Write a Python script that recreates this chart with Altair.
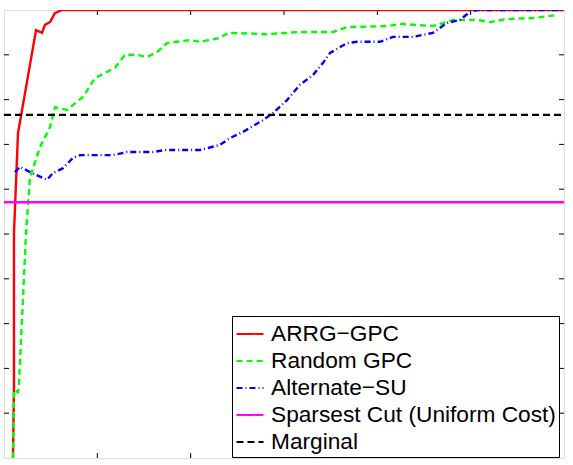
import altair as alt
import pandas as pd

# ---- data ----
arrg_x = [0.96, 1.07, 1.07, 1.5, 3.43, 4.07, 4.39, 4.93, 5.46, 6.21, 60]
arrg_y = [0.0, 0.158, 0.502, 0.725, 0.955, 0.949, 0.967, 0.973, 0.993, 1.0, 1.0]

rand_x = [0.96, 1.07, 1.5, 1.61, 2.36, 2.79, 3.86, 4.93, 5.46, 6.75, 8.46, 9.75, 11.04, 11.89,
          12.96, 14.25, 15.32, 16.39, 17.46, 18.54, 19.93, 21.0, 23.14, 24.0, 28.18, 31.71,
          35.25, 36.75, 41.04, 42.43, 45.96, 48.11, 50.68, 52.07, 53.89, 56.68, 59.36]
rand_y = [0.0, 0.152, 0.147, 0.167, 0.502, 0.627, 0.694, 0.739, 0.783, 0.777, 0.806, 0.848,
          0.862, 0.871, 0.9, 0.9, 0.895, 0.906, 0.926, 0.929, 0.933, 0.929, 0.9375, 0.949,
          0.946, 0.951, 0.951, 0.962, 0.964, 0.969, 0.964, 0.978, 0.978, 0.973, 0.98, 0.982,
          0.989]

alt_x = [1.18, 1.71, 3.0, 4.61, 5.25, 6.32, 7.39, 8.14, 9.96, 11.68, 13.18, 15.96, 17.25, 21.0,
         23.14, 24.21, 25.61, 27.75, 28.82, 30.32, 31.71, 33.11, 34.18, 34.93, 36.75, 37.82,
         40.29, 41.68, 43.82, 45.96, 47.46, 48.86, 49.93, 50.68, 60]
alt_y = [0.638, 0.65, 0.636, 0.621, 0.636, 0.647, 0.67, 0.676, 0.676, 0.676, 0.683, 0.683,
         0.6875, 0.6875, 0.699, 0.714, 0.728, 0.754, 0.77, 0.799, 0.833, 0.855, 0.882, 0.904,
         0.926, 0.929, 0.929, 0.94, 0.94, 0.949, 0.971, 0.978, 0.996, 1.0, 1.0]

sparsest_x = [0, 60]
sparsest_y = [0.571, 0.571]
marginal_x = [0, 60]
marginal_y = [0.766, 0.766]

series_names = ["ARRG\u2212GPC", "Random GPC", "Alternate\u2212SU",
                "Sparsest Cut (Uniform Cost)", "Marginal"]
series_colors = ["#ff0000", "#00ff00", "#0000ff", "#ff00ff", "#000000"]
series_dash = [[1, 0], [6, 4], [6, 3, 1, 3], [1, 0], [7, 4]]

x_ticks = [10, 20, 30, 40, 50]
y_ticks = [0.1, 0.2, 0.3, 0.4, 0.5, 0.6, 0.7, 0.8, 0.9]

W, H = 560, 448

rows = []
for i, (xs_, ys_) in enumerate([(arrg_x, arrg_y), (rand_x, rand_y), (alt_x, alt_y),
                                (sparsest_x, sparsest_y), (marginal_x, marginal_y)]):
    for j, (a, b) in enumerate(zip(xs_, ys_)):
        rows.append({"x": a, "y": b, "series": series_names[i], "order": i, "idx": j})
df = pd.DataFrame(rows)

xs = alt.Scale(domain=[0, 60], nice=False, zero=False)
ys = alt.Scale(domain=[0, 1], nice=False, zero=False)

lines = alt.Chart(df).mark_line(strokeWidth=2.4, clip=True).encode(
    x=alt.X("x:Q", scale=xs, axis=None),
    y=alt.Y("y:Q", scale=ys, axis=None),
    color=alt.Color("series:N", scale=alt.Scale(domain=series_names, range=series_colors),
                    legend=alt.Legend(
                        title=None, orient="none", legendX=228, legendY=306,
                        symbolType="stroke", symbolSize=729, symbolStrokeWidth=2.2,
                        labelFont="Liberation Sans", labelFontSize=22.7, labelColor="black",
                        labelLimit=400, labelOffset=6, rowPadding=-4, padding=3,
                        strokeColor="black", fillColor="white", cornerRadius=0)),
    strokeDash=alt.StrokeDash("series:N", scale=alt.Scale(domain=series_names, range=series_dash),
                              legend=None),
    detail="series:N",
    order="idx:Q",
)

xt = pd.DataFrame({"v": x_ticks})
yt = pd.DataFrame({"v": y_ticks})
tick_style = dict(color="black", strokeWidth=1)
xb = alt.Chart(xt).mark_rule(**tick_style).encode(x=alt.X("v:Q", scale=xs, axis=None), y=alt.value(H), y2=alt.value(H - 5))
xtop = alt.Chart(xt).mark_rule(**tick_style).encode(x=alt.X("v:Q", scale=xs, axis=None), y=alt.value(0), y2=alt.value(5))
yl = alt.Chart(yt).mark_rule(**tick_style).encode(y=alt.Y("v:Q", scale=ys, axis=None), x=alt.value(0), x2=alt.value(5))
yr = alt.Chart(yt).mark_rule(**tick_style).encode(y=alt.Y("v:Q", scale=ys, axis=None), x=alt.value(W), x2=alt.value(W - 5))

chart = alt.layer(xb, xtop, yl, yr, lines).properties(
    width=W, height=H,
    autosize=alt.AutoSizeParams(type="none"),
    padding={"left": 4, "top": 10, "right": 9, "bottom": 7},
).configure_view(stroke="black", strokeWidth=1.2).configure(background="white")

chart.save("out.html", embed_options={"renderer": "svg", "actions": False})
